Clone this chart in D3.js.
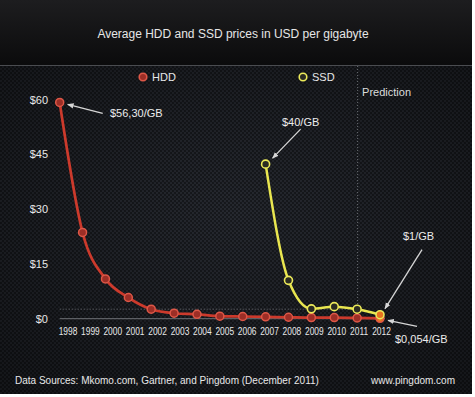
<!DOCTYPE html>
<html>
<head>
<meta charset="utf-8">
<script src="https://cdn.jsdelivr.net/npm/d3@7"></script>
<style>
  html, body { margin: 0; padding: 0; background: #fff; }
  svg { display: block; font-family: "Liberation Sans", Arial, Helvetica, sans-serif; }
</style>
</head>
<body>
<svg id="chart" width="475" height="397"></svg>
<script>
// data
const years = d3.range(1998, 2013);
const hddPrices = [59.2, 23.6, 10.9, 5.8, 2.6, 1.5, 1.2, 0.7, 0.6, 0.5, 0.4, 0.3, 0.3, 0.2, 0.1];
const ssdYears = [2007, 2008, 2009, 2010, 2011, 2012];
const ssdPrices = [42.3, 10.5, 2.7, 3.3, 2.6, 1.1];
const yTicks = [0, 15, 30, 45, 60];
const predictionYear = 2011;

const width = 475, height = 397;
const svg = d3.select("#chart");

// background: dark header + textured body
const defs = svg.append("defs");
let head = defs.append("linearGradient").attr("id", "head").attr("x1", 0).attr("y1", 0).attr("x2", 0).attr("y2", 1);
head.append("stop").attr("offset", "0%").attr("stop-color", "#1d1d1f");
head.append("stop").attr("offset", "100%").attr("stop-color", "#0b0b0c");

let hex = defs.append("pattern").attr("id", "hex").attr("width", 4).attr("height", 4).attr("patternUnits", "userSpaceOnUse");
hex.append("rect").attr("width", 4).attr("height", 4).attr("fill", "#16181c");
hex.append("circle").attr("cx", 1).attr("cy", 1).attr("r", 1.1).attr("fill", "#272a31");
hex.append("circle").attr("cx", 3).attr("cy", 3).attr("r", 1.1).attr("fill", "#272a31");

let shade = defs.append("radialGradient").attr("id", "shade").attr("cx", "50%").attr("cy", "45%").attr("r", "70%");
shade.append("stop").attr("offset", "0%").attr("stop-color", "#000").attr("stop-opacity", 0);
shade.append("stop").attr("offset", "100%").attr("stop-color", "#000").attr("stop-opacity", 0.45);

svg.append("rect").attr("width", width).attr("height", height).attr("fill", "#fff");
svg.append("rect").attr("x", 0).attr("y", 0).attr("width", 472).attr("height", 65).attr("fill", "url(#head)");
svg.append("rect").attr("x", 0).attr("y", 66).attr("width", 472).attr("height", 328).attr("fill", "url(#hex)");
svg.append("rect").attr("x", 0).attr("y", 66).attr("width", 472).attr("height", 328).attr("fill", "url(#shade)");
svg.append("line").attr("x1", 0).attr("x2", 472).attr("y1", 65.5).attr("y2", 65.5)
    .attr("stroke", "#4a4c50").attr("stroke-width", 1);

// scales
const x = d3.scaleLinear().domain([1998, 2012]).range([59.7, 380]);
const xLabel = d3.scalePoint().domain(years).range([67.5, 381]);
const y = d3.scaleLinear().domain([0, 60]).range([318.7, 99.5]);

// title
svg.append("text").attr("x", 233).attr("y", 38).attr("text-anchor", "middle")
    .attr("fill", "#e6e6e6").attr("font-size", 12)
    .text("Average HDD and SSD prices in USD per gigabyte");

// reference lines
svg.append("line").attr("x1", x(1998)).attr("x2", x(2012) + 5)
    .attr("y1", y(0)).attr("y2", y(0))
    .attr("stroke", "#6e7075").attr("stroke-width", 1);
svg.append("line").attr("x1", x(1998)).attr("x2", x(predictionYear))
    .attr("y1", y(2.6)).attr("y2", y(2.6))
    .attr("stroke", "#6a6d72").attr("stroke-width", 1).attr("stroke-dasharray", "1,2");
svg.append("line").attr("x1", x(predictionYear) + 0.5).attr("x2", x(predictionYear) + 0.5)
    .attr("y1", 66).attr("y2", y(0))
    .attr("stroke", "#6a6d72").attr("stroke-width", 1).attr("stroke-dasharray", "1,2");
svg.append("text").attr("x", x(predictionYear) + 5).attr("y", 96)
    .attr("fill", "#dcdcdc").attr("font-size", 11).text("Prediction");

// y labels
svg.append("g").selectAll("text").data(yTicks).join("text")
    .attr("x", 48).attr("y", d => y(d) + 4).attr("text-anchor", "end")
    .attr("fill", "#e8e8e8").attr("font-size", 11)
    .text(d => "$" + d);

// x axis (labels only), glyphs squeezed to match the condensed face
const xAxis = d3.axisBottom(xLabel).tickSize(0).tickPadding(0);
const gx = svg.append("g").attr("transform", "translate(0," + 328 + ")").call(xAxis);
gx.select(".domain").remove();
gx.selectAll("text").attr("fill", "#e8e8e8").attr("font-size", 10.5)
    .attr("transform", "scale(0.8,1)")
    .attr("font-family", "'Liberation Sans', Arial, sans-serif");

// lines
const line = d3.line().x(d => x(d[0])).y(d => y(d[1])).curve(d3.curveMonotoneX);
const hdd = years.map((yr, i) => [yr, hddPrices[i]]);
const ssd = ssdYears.map((yr, i) => [yr, ssdPrices[i]]);

svg.append("path").datum(hdd).attr("d", line).attr("fill", "none")
    .attr("stroke", "#cc3a2c").attr("stroke-width", 2.7);
svg.append("path").datum(ssd).attr("d", line).attr("fill", "none")
    .attr("stroke", "#e9e650").attr("stroke-width", 2.5);

svg.append("g").selectAll("circle").data(hdd).join("circle")
    .attr("cx", d => x(d[0])).attr("cy", d => y(d[1])).attr("r", 4)
    .attr("fill", (d, i) => i === hdd.length - 1 ? "#e8731f" : "#9c2e26")
    .attr("stroke", "#dd5747").attr("stroke-width", 1.5);
svg.append("g").selectAll("circle").data(ssd).join("circle")
    .attr("cx", d => x(d[0])).attr("cy", d => y(d[1])).attr("r", 4)
    .attr("fill", (d, i) => i === ssd.length - 1 ? "#e8731f" : "#2a2b22")
    .attr("stroke", "#ecea5a").attr("stroke-width", 1.6);

// legend
const legend = [
    { name: "HDD", cx: 143, fill: "#9c2e26", stroke: "#dd5747" },
    { name: "SSD", cx: 303, fill: "#2a2b22", stroke: "#ecea5a" }
];
const lg = svg.append("g").selectAll("g").data(legend).join("g");
lg.append("circle").attr("cx", d => d.cx).attr("cy", 77).attr("r", 3.8)
    .attr("fill", d => d.fill).attr("stroke", d => d.stroke).attr("stroke-width", 1.6);
lg.append("text").attr("x", d => d.cx + 9).attr("y", 81)
    .attr("fill", "#e8e8e8").attr("font-size", 11).text(d => d.name);

// annotations with arrows
defs.append("marker").attr("id", "arrow").attr("viewBox", "0 0 10 10")
    .attr("refX", 9).attr("refY", 5).attr("markerWidth", 5).attr("markerHeight", 5)
    .attr("orient", "auto")
    .append("path").attr("d", "M0,1 L10,5 L0,9 z").attr("fill", "#d6d6d6");

const notes = [
    { label: "$56,30/GB", px: 1998, py: hddPrices[0], tip: [8, 2], tail: [43, 11], tx: 110, ty: 117 },
    { label: "$40/GB", px: 2007, py: ssdPrices[0], tip: [7, -6], tail: [35, -35], tx: 282, ty: 126 },
    { label: "$1/GB", px: 2012, py: ssdPrices[5], tip: [5, -6], tail: [42, -65], tx: 403, ty: 240 },
    { label: "$0,054/GB", px: 2012, py: hddPrices[14], tip: [8, 2], tail: [37, 8], tx: 395, ty: 343 }
];
const ng = svg.append("g").selectAll("g").data(notes).join("g");
ng.append("line")
    .attr("x1", d => x(d.px) + d.tail[0]).attr("y1", d => y(d.py) + d.tail[1])
    .attr("x2", d => x(d.px) + d.tip[0]).attr("y2", d => y(d.py) + d.tip[1])
    .attr("stroke", "#d6d6d6").attr("stroke-width", 1.3)
    .attr("marker-end", "url(#arrow)");
ng.append("text").attr("x", d => d.tx).attr("y", d => d.ty)
    .attr("fill", "#ececec").attr("font-size", 11).text(d => d.label);

// footer
svg.append("text").attr("x", 15).attr("y", 384).attr("fill", "#e8e8e8").attr("font-size", 10)
    .text("Data Sources: Mkomo.com, Gartner, and Pingdom (December 2011)");
svg.append("text").attr("x", 455).attr("y", 384).attr("text-anchor", "end")
    .attr("fill", "#e8e8e8").attr("font-size", 10).text("www.pingdom.com");
</script>
</body>
</html>
